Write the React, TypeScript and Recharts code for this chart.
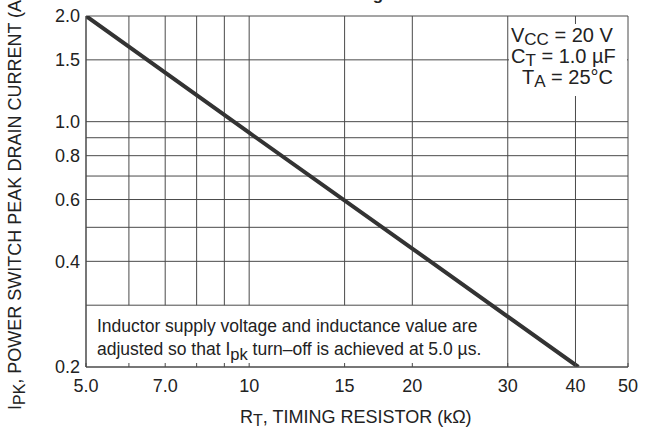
import React from "react";
import { LineChart, Line, XAxis, YAxis, ReferenceLine } from "recharts";

const resistance = [5, 10, 20, 40.5];
const peakCurrent = [2.0, 0.93, 0.435, 0.2];

const xTicks = [5, 6, 7, 8, 9, 10, 15, 20, 30, 40, 50];
const xTickLabels = ["5.0", "", "7.0", "", "", "10", "15", "20", "30", "40", "50"];
const xGridShort = [6, 7, 8, 9, 10, 15, 20];
const xGridFull = [30, 40, 50];
const yTicks = [0.2, 0.4, 0.6, 0.8, 1.0, 1.5, 2.0];
const yTickLabels = ["0.2", "0.4", "0.6", "0.8", "1.0", "1.5", "2.0"];
const yGrid = [0.3, 0.4, 0.5, 0.6, 0.7, 0.8, 0.9, 1.0, 1.5, 2.0];
const boxTop = 0.3;

const data = resistance.map((r, i) => ({ r, i: peakCurrent[i] }));

const FONT = '"Liberation Sans", Arial, Helvetica, sans-serif';
const INK = "#222";
const GRID = "#4a4a4a";

const XTick = (props: any) => {
  const { x, y, payload } = props;
  const idx = xTicks.indexOf(payload.value);
  const label = idx >= 0 ? xTickLabels[idx] : "";
  return (
    <g>
      <line x1={x} x2={x} y1={y - 4} y2={y} stroke={GRID} strokeWidth={1} />
      <text x={x} y={y + 25} textAnchor="middle" fontSize={18} fill={INK} fontFamily={FONT}>
        {label}
      </text>
    </g>
  );
};

const YTick = (props: any) => {
  const { x, y, payload } = props;
  const idx = yTicks.indexOf(payload.value);
  const label = idx >= 0 ? yTickLabels[idx] : "";
  return (
    <text x={x} y={y} dy="0.36em" textAnchor="end" fontSize={18} fill={INK} fontFamily={FONT}>
      {label}
    </text>
  );
};

const Overlay = () => (
  <svg
    width={652}
    height={430}
    style={{ position: "absolute", left: 0, top: 0, pointerEvents: "none" }}
  >
    <g fontFamily={FONT} fill={INK}>
      <text x={378} y={0} textAnchor="middle" fontSize={17} fontWeight="bold">g</text>
      <rect x={509} y={24} width={118} height={72} fill="#fff" />
      <text x={511} y={42} fontSize={20}>
        V<tspan fontSize={17} dy={3}>CC</tspan>
        <tspan dy={-3}> = 20 V</tspan>
      </text>
      <text x={511} y={63} fontSize={20}>
        C<tspan fontSize={17} dy={3}>T</tspan>
        <tspan dy={-3}> = 1.0 µF</tspan>
      </text>
      <text x={522} y={84} fontSize={20}>
        T<tspan fontSize={17} dy={3}>A</tspan>
        <tspan dy={-3}> = 25°C</tspan>
      </text>
      <text x={97} y={332} fontSize={17.5}>Inductor supply voltage and inductance value are</text>
      <text x={97} y={355} fontSize={17.5}>
        adjusted so that I<tspan fontSize={16.5} dy={5}>pk</tspan>
        <tspan dy={-5}> turn–off is achieved at 5.0 µs.</tspan>
      </text>
      <text x={240} y={423} fontSize={18}>
        R<tspan fontSize={16} dy={3}>T</tspan>
        <tspan dy={-3}>, TIMING RESISTOR (kΩ)</tspan>
      </text>
      <text x={21} y={410} fontSize={18} transform="rotate(-90 21 410)">
        I<tspan fontSize={16} dy={4}>PK</tspan>
        <tspan dy={-4}>, POWER SWITCH PEAK DRAIN CURRENT (A)</tspan>
      </text>
    </g>
  </svg>
);

export default function App() {
  return (
    <div style={{ position: "absolute", left: 0, top: 0, width: 652, height: 430, background: "#fff" }}>
      <LineChart width={652} height={430} data={data} margin={{ top: 16, right: 24, bottom: 0, left: 0 }}>
        <XAxis
          dataKey="r"
          type="number"
          scale="log"
          domain={[5, 50]}
          ticks={xTicks}
          interval={0}
          allowDataOverflow
          height={63}
          tickSize={0}
          tickMargin={0}
          tickLine={false}
          axisLine={{ stroke: GRID, strokeWidth: 1.5 }}
          tick={<XTick />}
        />
        <YAxis
          dataKey="i"
          type="number"
          scale="log"
          domain={[0.2, 2.0]}
          ticks={yTicks}
          interval={0}
          allowDataOverflow
          width={86}
          tickSize={0}
          tickMargin={6}
          tickLine={false}
          axisLine={{ stroke: GRID, strokeWidth: 1.5 }}
          tick={<YTick />}
        />
        {yGrid.map((v) => (
          <ReferenceLine key={"y" + v} y={v} stroke={GRID} strokeWidth={1} ifOverflow="visible" />
        ))}
        {xGridShort.map((v) => (
          <ReferenceLine
            key={"xs" + v}
            segment={[{ x: v, y: boxTop }, { x: v, y: 2.0 }]}
            stroke={GRID}
            strokeWidth={1}
            ifOverflow="visible"
          />
        ))}
        {xGridFull.map((v) => (
          <ReferenceLine key={"xf" + v} x={v} stroke={GRID} strokeWidth={1} ifOverflow="visible" />
        ))}
        <Line
          dataKey="i"
          type="linear"
          stroke="#333"
          strokeWidth={4}
          dot={false}
          isAnimationActive={false}
        />
      </LineChart>
      <Overlay />
    </div>
  );
}
